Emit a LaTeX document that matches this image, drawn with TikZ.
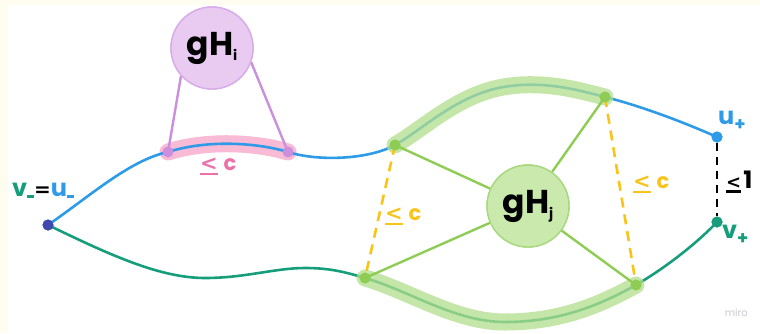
\documentclass[tikz,border=0pt]{standalone}
\usepackage{fontspec}
\setmainfont{Poppins}
\newfontfamily\glyphfont{DejaVu Sans}
\definecolor{pathblue}{RGB}{46,155,232}
\definecolor{pathteal}{RGB}{22,158,124}
\definecolor{startdot}{RGB}{64,72,176}
\definecolor{lilacline}{RGB}{203,143,222}
\definecolor{lilacfill}{RGB}{233,202,241}
\definecolor{lilacrim}{RGB}{216,172,233}
\definecolor{pinkglow}{RGB}{248,186,212}
\definecolor{pinktext}{RGB}{236,112,170}
\definecolor{leafline}{RGB}{142,204,84}
\definecolor{leaffill}{RGB}{202,233,172}
\definecolor{leafrim}{RGB}{168,216,128}
\definecolor{leafglow}{RGB}{178,222,140}
\definecolor{amber}{RGB}{248,196,26}
\definecolor{cream}{RGB}{255,253,240}
\definecolor{watermark}{RGB}{200,200,210}
% "less than or equal" drawn as < with a bar underneath
\newcommand{\leqbar}{\setbox0\hbox{\glyphfont\bfseries<}\rlap{\rule[-0.25em]{\wd0}{0.13em}}\box0}
\newcommand{\subminus}{\rule[-2pt]{7pt}{3pt}}
\newcommand{\subplus}{\raisebox{-6pt}{\fontsize{18}{18}\selectfont\bfseries +}}
\begin{document}
\begin{tikzpicture}[x=1pt,y=-1pt,
  dot/.style={circle,inner sep=0pt,minimum size=11pt},
  coset/.style={circle,inner sep=0pt,minimum size=82pt,line width=1.4pt,
    font=\fontsize{33}{33}\selectfont\bfseries},
  curve/.style={line width=2.6pt},
  glow/.style={line width=17pt,line cap=round},
  spoke/.style={line width=2.4pt},
  gap/.style={line width=2.6pt,dash pattern=on 10pt off 7pt},
  lab/.style={inner sep=0pt,font=\fontsize{24}{24}\selectfont\bfseries},
  small/.style={inner sep=0pt,font=\fontsize{21}{21}\selectfont\bfseries}]
\useasboundingbox (0,0) rectangle (760,333);
\fill[cream] (0,0) rectangle (760,5);
\fill[cream] (0,0) rectangle (8,333);

% end points of the two paths
\node[dot,fill=startdot] (vm) at (48,225) {};
\node[dot,fill=pathblue] (up) at (717,137) {};
\node[dot,fill=pathteal] (vp) at (717,222) {};
% points touched by the cosets
\node[dot,fill=lilacline] (pi1) at (168,152) {};
\node[dot,fill=lilacline] (pi2) at (288,152) {};
\node[dot,fill=leafline] (pj1) at (395,145) {};
\node[dot,fill=leafline] (pj2) at (605,97) {};
\node[dot,fill=leafline] (pj3) at (365,278) {};
\node[dot,fill=leafline] (pj4) at (636,285) {};
\node[coset,draw=lilacrim,fill=lilacfill] (gHi) at (212,48)
  {gH\raisebox{-5pt}{\fontsize{14}{14}\selectfont i}};
\node[coset,draw=leafrim,fill=leaffill] (gHj) at (528,206)
  {gH\raisebox{-5pt}{\fontsize{14}{14}\selectfont j}};

% pink band under the stretch near gH_i
\draw[glow,pinkglow] (pi1.center) .. controls (205,140) and (255,142) .. (pi2.center);

% upper path (blue)
\draw[curve,pathblue] (vm.center) .. controls (90,196) and (130,160) .. (pi1.center)
  .. controls (205,140) and (255,142) .. (pi2.center)
  .. controls (320,162) and (370,159) .. (pj1.center)
  .. controls (425,128) and (460,92) .. (510,86)
  .. controls (550,81) and (585,92) .. (pj2.center)
  .. controls (645,107) and (690,125) .. (up.center);
% lower path (teal)
\draw[curve,pathteal] (vm.center) .. controls (110,255) and (160,278) .. (205,278)
  .. controls (245,278) and (275,268) .. (305,268)
  .. controls (330,268) and (345,272) .. (pj3.center)
  .. controls (410,291) and (455,322) .. (505,322)
  .. controls (560,322) and (600,305) .. (pj4.center)
  .. controls (670,265) and (700,240) .. (vp.center);

% green bands over the stretches near gH_j
\draw[glow,leafglow,opacity=0.75] (pj1.center) .. controls (425,128) and (460,92) .. (510,86)
  .. controls (550,81) and (585,92) .. (pj2.center);
\draw[glow,leafglow,opacity=0.75] (pj3.center) .. controls (410,291) and (455,322) .. (505,322)
  .. controls (560,322) and (600,305) .. (pj4.center);

% spokes from the cosets
\draw[spoke,lilacline] (gHi.222) -- (pi1.center);
\draw[spoke,lilacline] (gHi.340) -- (pi2.center);
\foreach \p in {pj1,pj2,pj3,pj4} \draw[spoke,leafline] (gHj) -- (\p.center);

% distance bounds
\draw[gap,amber] (pj1.center) -- (pj3.center);
\draw[gap,amber] (pj2.center) -- (pj4.center);
\draw[line width=2.4pt,dash pattern=on 8pt off 6pt] (up) -- (vp);

% redraw the dots and cosets on top
\foreach \p/\c in {pi1/lilacline,pi2/lilacline,pj1/leafline,pj2/leafline,pj3/leafline,pj4/leafline,vm/startdot,up/pathblue,vp/pathteal}
  \fill[\c] (\p) circle (5.5pt);
\node[coset,draw=lilacrim,fill=lilacfill] at (gHi)
  {gH\raisebox{-5pt}{\fontsize{14}{14}\selectfont i}};
\node[coset,draw=leafrim,fill=leaffill] at (gHj)
  {gH\raisebox{-5pt}{\fontsize{14}{14}\selectfont j}};

% labels
\node[lab,anchor=base west] (lvm) at (12,196)
  {\textcolor{pathteal}{v\subminus}{\glyphfont\bfseries\fontsize{20}{20}\selectfont=}\textcolor{pathblue}{u\subminus}};
\node[lab,anchor=base west,text=pathblue] (lup) at (718,124) {u\subplus};
\node[lab,anchor=base west,text=pathteal] (lvp) at (722,238) {v\subplus};
\node[lab,anchor=base west] (lone) at (726,188)
  {{\fontsize{18}{18}\selectfont\leqbar}\hspace{2pt}1};
\node[small,anchor=base west,text=pinktext] (lci) at (200,170) {\leqbar\;c};
\node[small,anchor=base west,text=amber] (lcj1) at (385,220) {\leqbar\;c};
\node[small,anchor=base west,text=amber] (lcj2) at (633,188) {\leqbar\;c};
\node[anchor=base east,inner sep=0pt,text=watermark,font=\fontsize{10}{10}\selectfont] (wm) at (748,316) {miro};
\end{tikzpicture}
\end{document}
